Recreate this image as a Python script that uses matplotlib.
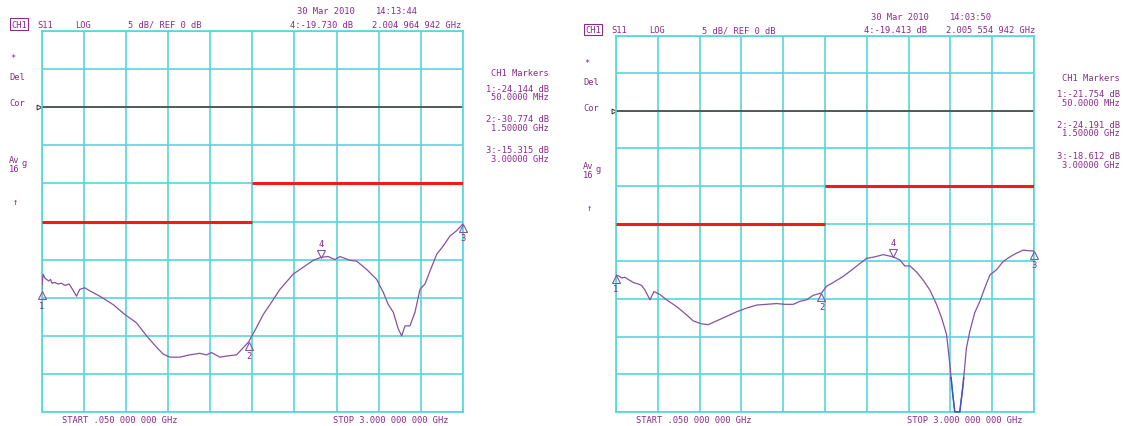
import numpy as np
import matplotlib.pyplot as plt
from matplotlib.patches import Rectangle
from matplotlib.transforms import offset_copy

# trace 1 (left screen), frequency in GHz and S11 in dB
freq_a = [0.050, 0.061, 0.073, 0.085, 0.101, 0.113, 0.124, 0.143, 0.166, 0.190,
          0.213, 0.243, 0.267, 0.295, 0.318, 0.353, 0.388, 0.458, 0.551, 0.633,
          0.715, 0.785, 0.855, 0.902, 0.948, 1.018, 1.088, 1.158, 1.205, 1.240,
          1.298, 1.368, 1.415, 1.450, 1.500, 1.555, 1.602, 1.649, 1.719, 1.812,
          1.882, 1.952, 2.005, 2.057, 2.104, 2.139, 2.209, 2.256, 2.326, 2.396,
          2.442, 2.477, 2.512, 2.547, 2.571, 2.594, 2.629, 2.664, 2.699, 2.734,
          2.769, 2.816, 2.862, 2.909, 2.956, 3.000]
s11_a = [-24.1, -21.9, -22.4, -22.6, -22.8, -22.6, -23.1, -23.0, -23.2, -23.1,
         -23.4, -23.2, -23.9, -24.8, -23.9, -23.7, -24.1, -24.8, -25.9, -27.2,
         -28.3, -30.0, -31.5, -32.4, -32.8, -32.8, -32.5, -32.3, -32.5, -32.2,
         -32.8, -32.6, -32.5, -31.8, -30.8, -28.9, -27.2, -25.9, -23.9, -21.9,
         -21.0, -20.1, -19.7, -19.6, -20.0, -19.6, -20.1, -20.2, -21.3, -22.6,
         -24.3, -25.9, -26.9, -29.1, -30.0, -28.7, -28.7, -26.9, -23.9, -23.2,
         -21.5, -19.3, -18.2, -16.9, -16.2, -15.3]

# trace 2 (right screen)
freq_b = [0.050, 0.066, 0.090, 0.113, 0.137, 0.172, 0.207, 0.231, 0.254, 0.290,
          0.318, 0.360, 0.407, 0.478, 0.548, 0.595, 0.654, 0.701, 0.760, 0.830,
          0.901, 0.971, 1.042, 1.112, 1.183, 1.242, 1.301, 1.348, 1.395, 1.442,
          1.500, 1.536, 1.583, 1.653, 1.723, 1.770, 1.818, 1.876, 1.936, 2.006,
          2.053, 2.088, 2.124, 2.171, 2.218, 2.265, 2.312, 2.348, 2.383, 2.406,
          2.424, 2.441, 2.476, 2.500, 2.523, 2.547, 2.582, 2.618, 2.653, 2.689,
          2.736, 2.783, 2.830, 2.877, 2.924, 2.971, 3.000]
s11_b = [-21.8, -21.9, -22.2, -22.1, -22.4, -22.8, -23.0, -23.2, -23.8, -25.1,
         -24.0, -24.4, -25.1, -26.0, -27.1, -27.9, -28.3, -28.4, -27.9, -27.3,
         -26.7, -26.2, -25.8, -25.7, -25.6, -25.7, -25.7, -25.3, -25.1, -24.5,
         -24.2, -23.3, -22.8, -22.0, -21.0, -20.3, -19.6, -19.4, -19.1, -19.4,
         -19.8, -20.6, -20.6, -21.4, -22.5, -23.8, -25.7, -27.5, -29.7, -33.7,
         -37.2, -40.0, -40.0, -36.3, -31.5, -29.3, -26.8, -25.3, -23.5, -21.8,
         -21.1, -20.0, -19.4, -18.9, -18.5, -18.6, -18.6]

# limit mask (red), step drawn on the centre graticule line
mask_f = [[0.05, 1.525], [1.525, 3.0]]
mask_db = [-15, -10]

markers_a = [("1", 0.05, -24.144), ("2", 1.5, -30.774), ("3", 3.0, -15.315)]
marker4_a = (2.004964942, -19.730)
markers_b = [("1", 0.05, -21.754), ("2", 1.5, -24.191), ("3", 3.0, -18.612)]
marker4_b = (2.005554942, -19.413)

dates = ["30 Mar 2010", "30 Mar 2010"]
times = ["14:13:44", "14:03:50"]
m4_text = ["4:-19.730 dB", "4:-19.413 dB"]
m4_freq = ["2.004 964 942 GHz", "2.005 554 942 GHz"]
mk_lines = [["1:-24.144 dB", "50.0000 MHz", "2:-30.774 dB", "1.50000 GHz", "3:-15.315 dB", "3.00000 GHz"],
            ["1:-21.754 dB", "50.0000 MHz", "2:-24.191 dB", "1.50000 GHz", "3:-18.612 dB", "3.00000 GHz"]]

W, H = 1124, 427
PURPLE = "#8a2a8a"
TRACE = "#8352a3"
GRID = "#55d6dd"
FONT = dict(family="DejaVu Sans Mono", fontsize=6.3, color=PURPLE)

fig = plt.figure(figsize=(W / 100, H / 100), dpi=100)


def txt(x, y, s, **kw):
    opts = dict(FONT)
    opts.update(kw)
    fig.text(x / W, 1 - y / H, s, va="center", **opts)


def panel(box, f, s, mk, mk4, k, dx, dy):
    x0, y0, x1, y1 = box
    ax = fig.add_axes([x0 / W, 1 - y1 / H, (x1 - x0) / W, (y1 - y0) / H])
    ax.set_xlim(0.05, 3.0)
    ax.set_ylim(-40, 10)
    ax.set_xticks(np.linspace(0.05, 3.0, 11))
    ax.set_yticks(np.arange(-40, 11, 5))
    ax.tick_params(length=0, labelbottom=False, labelleft=False)
    ax.grid(True, color=GRID, lw=1.2)
    for sp in ax.spines.values():
        sp.set_color(GRID)
        sp.set_linewidth(1.2)
    ax.set_axisbelow(True)
    ax.axhline(0, color="#505050", lw=1.3, zorder=2.5)
    ax.plot([0.035], [0], marker=">", ms=3.5, mfc="white", mec="#333333", mew=0.7, clip_on=False)
    for mf, md in zip(mask_f, mask_db):
        ax.plot(mf, [md, md], color="#ee1c1c", lw=2.2, solid_capstyle="butt", zorder=3)
    ax.plot(f, s, color=TRACE, lw=0.9, zorder=4)
    # analyser draws the part near the bottom edge in blue
    low = ax.plot(f, s, color="#3a4fd0", lw=1.0, zorder=4.5)[0]
    low.set_clip_path(Rectangle((0.05, -41), 3.0, 5.6, transform=ax.transData))

    up = offset_copy(ax.transData, fig=fig, x=0, y=-4, units="dots")
    lab = offset_copy(ax.transData, fig=fig, x=0, y=-14, units="dots")
    for name, mf, md in mk:
        ax.plot([mf], [md], marker="^", ms=6, mfc="none", mec=TRACE, mew=0.8,
                transform=up, clip_on=False, zorder=5)
        ax.text(mf, md, name, transform=lab, ha="center", va="center", **FONT)
    dn = offset_copy(ax.transData, fig=fig, x=0, y=4, units="dots")
    lab4 = offset_copy(ax.transData, fig=fig, x=0, y=14, units="dots")
    ax.plot([mk4[0]], [mk4[1]], marker="v", ms=6, mfc="none", mec=TRACE, mew=0.8,
            transform=dn, zorder=5)
    ax.text(mk4[0], mk4[1], "4", transform=lab4, ha="center", va="center", **FONT)

    # header
    txt(dx + 297, dy + 12, dates[k])
    txt(dx + 376, dy + 12, times[k])
    txt(dx + 11, dy + 25, "CH1", bbox=dict(boxstyle="square,pad=0.12", fc="none", ec=PURPLE, lw=0.8))
    txt(dx + 37, dy + 25, "S11")
    txt(dx + 75, dy + 25, "LOG")
    txt(dx + 128, dy + 25, "5 dB/ REF 0 dB")
    txt(dx + 290, dy + 25, m4_text[k])
    txt(dx + 372, dy + 25, m4_freq[k])
    # left annotations
    txt(dx + 10, dy + 58, "*")
    txt(dx + 9, dy + 77, "Del")
    txt(dx + 9, dy + 103, "Cor")
    txt(dx + 9, dy + 161, "Av")
    txt(dx + 21, dy + 164, "g")
    txt(dx + 9, dy + 170, "16")
    txt(dx + 13, dy + 203, "\u2191")
    # marker table
    xr = x1 + 86
    txt(xr, dy + 73, "CH1 Markers", ha="right")
    for i, line in enumerate(mk_lines[k]):
        yy = dy + 89 + (i // 2) * 31 + (i % 2) * 8.5
        txt(xr, yy, line, ha="right")
    # start / stop
    txt(dx + 62, 421, "START .050 000 000 GHz")
    txt(dx + 333, 421, "STOP 3.000 000 000 GHz")
    return ax


panel((41.5, 32, 463, 413), freq_a, s11_a, markers_a, marker4_a, 0, 0, 0)
panel((616, 36.5, 1034, 413), freq_b, s11_b, markers_b, marker4_b, 1, 574, 5.5)

fig.savefig("out.png", dpi=100, facecolor="white")
